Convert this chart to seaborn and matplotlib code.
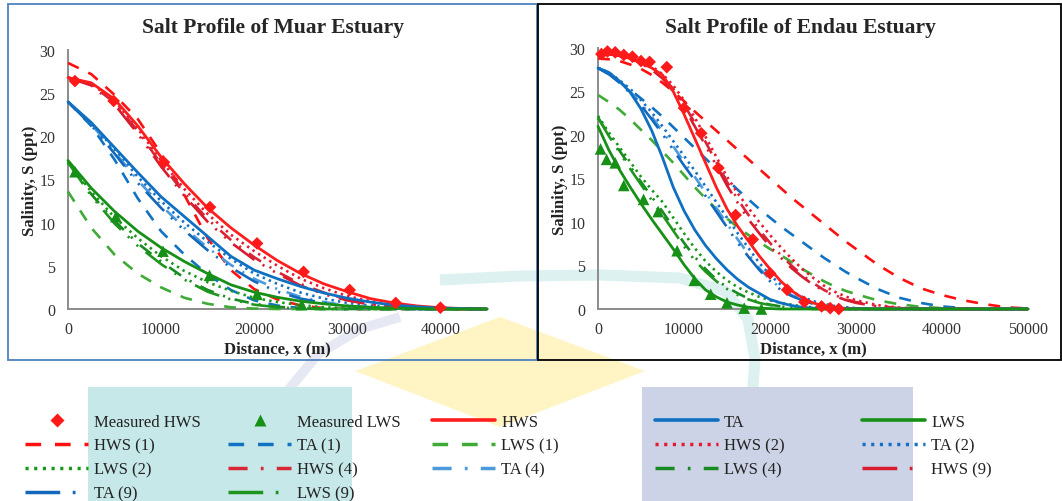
import numpy as np
import pandas as pd
import matplotlib
matplotlib.use("Agg")
import matplotlib.pyplot as plt
from matplotlib.lines import Line2D
from matplotlib.patches import Rectangle, Polygon
import seaborn as sns

# ---------------- data ----------------
x_left = [0, 2500, 5000, 7500, 10000, 12500, 15000, 17500, 20000, 22500, 25000,
          27500, 30000, 32500, 35000, 37500, 40000, 42500, 45000]
x_right = [0, 1250, 2500, 3750, 5000, 6250, 7500, 8750, 10000, 11250, 12500, 13750,
           15000, 16250, 17500, 18750, 20000, 21250, 22500, 23750, 25000, 26250,
           27500, 28750, 30000, 32500, 35000, 37500, 40000, 42500, 45000, 47500, 50000]

# Muar estuary
hws_L  = [26.8, 26.2, 24.3, 21.2, 17.6, 14.5, 11.7, 9.4, 7.4, 5.6, 4.1, 2.9, 2.0, 1.2, 0.7, 0.35, 0.15, 0.05, 0.0]
hws1_L = [28.5, 27.2, 24.8, 22.0, 18.0, 13.2, 8.2, 4.5, 2.3, 1.1, 0.4, 0.1, 0.0, 0.0, 0.0, 0.0, 0.0, 0.0, 0.0]
hws2_L = [26.8, 26.1, 24.1, 20.9, 17.2, 13.9, 11.0, 8.6, 6.7, 5.0, 3.5, 2.4, 1.5, 0.9, 0.5, 0.25, 0.1, 0.05, 0.0]
hws4_L = [26.8, 26.0, 23.9, 20.6, 16.8, 13.4, 10.4, 8.0, 6.0, 4.3, 2.9, 1.9, 1.1, 0.6, 0.3, 0.1, 0.05, 0.0, 0.0]
hws9_L = [26.8, 25.9, 23.7, 20.3, 16.5, 13.1, 10.1, 7.7, 5.7, 4.1, 2.7, 1.7, 1.0, 0.5, 0.25, 0.1, 0.0, 0.0, 0.0]
ta_L   = [24.0, 21.6, 18.7, 15.8, 13.0, 10.7, 8.4, 6.1, 4.5, 3.5, 2.6, 1.85, 1.25, 0.8, 0.45, 0.25, 0.1, 0.05, 0.0]
ta1_L  = [24.0, 21.2, 17.3, 12.8, 9.0, 6.3, 4.0, 2.2, 1.0, 0.4, 0.1, 0.0, 0.0, 0.0, 0.0, 0.0, 0.0, 0.0, 0.0]
ta2_L  = [24.0, 21.5, 18.5, 15.3, 12.5, 10.0, 7.8, 5.8, 4.1, 2.9, 1.9, 1.2, 0.7, 0.4, 0.2, 0.1, 0.0, 0.0, 0.0]
ta4_L  = [24.0, 21.4, 18.2, 14.9, 12.0, 9.4, 7.1, 5.1, 3.5, 2.3, 1.4, 0.8, 0.4, 0.2, 0.1, 0.0, 0.0, 0.0, 0.0]
ta9_L  = [24.0, 21.3, 18.0, 14.6, 11.7, 9.1, 6.8, 4.8, 3.2, 2.0, 1.2, 0.7, 0.35, 0.15, 0.05, 0.0, 0.0, 0.0, 0.0]
lws_L  = [17.2, 14.0, 11.3, 9.0, 7.1, 5.5, 4.1, 2.8, 1.95, 1.35, 0.9, 0.6, 0.35, 0.2, 0.1, 0.05, 0.0, 0.0, 0.0]
lws1_L = [13.6, 9.4, 6.3, 4.1, 2.5, 1.3, 0.6, 0.2, 0.05, 0.0, 0.0, 0.0, 0.0, 0.0, 0.0, 0.0, 0.0, 0.0, 0.0]
lws2_L = [17.0, 13.6, 10.6, 8.2, 6.1, 4.4, 3.1, 2.1, 1.3, 0.8, 0.45, 0.2, 0.1, 0.0, 0.0, 0.0, 0.0, 0.0, 0.0]
lws4_L = [17.0, 13.3, 10.2, 7.6, 5.5, 3.6, 2.2, 1.2, 0.6, 0.25, 0.1, 0.0, 0.0, 0.0, 0.0, 0.0, 0.0, 0.0, 0.0]
lws9_L = [17.0, 13.1, 9.9, 7.3, 5.2, 3.4, 2.0, 1.1, 0.5, 0.2, 0.05, 0.0, 0.0, 0.0, 0.0, 0.0, 0.0, 0.0, 0.0]
meas_hws_x_L = [750, 4900, 10300, 15250, 20300, 25300, 30250, 35200, 40000]
meas_hws_y_L = [26.4, 24.1, 17.0, 11.8, 7.6, 4.3, 2.2, 0.7, 0.15]
meas_lws_x_L = [750, 5150, 10200, 15200, 20300, 25100]
meas_lws_y_L = [15.9, 10.7, 6.7, 3.9, 1.7, 0.5]

# Endau estuary
hws_R  = [29.4, 29.35, 29.1, 28.8, 28.3, 27.7, 26.9, 25.0, 22.4, 19.6, 16.8, 14.0, 11.5, 9.5, 7.8, 6.1, 4.6,
          3.2, 2.1, 1.3, 0.7, 0.35, 0.15, 0.05, 0.0, 0.0, 0.0, 0.0, 0.0, 0.0, 0.0, 0.0, 0.0]
hws1_R = [28.8, 28.7, 28.5, 28.1, 27.6, 26.9, 26.0, 25.0, 23.9, 22.7, 21.6, 20.5, 19.4, 18.3, 17.2, 16.1, 15.0,
          13.9, 12.8, 11.8, 10.8, 9.8, 8.8, 7.8, 6.9, 5.1, 3.6, 2.4, 1.6, 1.0, 0.55, 0.2, 0.05]
hws2_R = [29.4, 29.35, 29.2, 28.9, 28.5, 27.9, 27.0, 25.7, 24.0, 22.0, 19.8, 17.5, 15.2, 13.3, 11.6, 10.0, 8.5,
          7.1, 5.8, 4.6, 3.6, 2.7, 2.0, 1.45, 1.0, 0.45, 0.15, 0.05, 0.0, 0.0, 0.0, 0.0, 0.0]
hws4_R = [29.4, 29.3, 29.1, 28.8, 28.3, 27.6, 26.7, 25.3, 23.5, 21.4, 19.2, 16.9, 14.6, 12.6, 10.8, 9.1, 7.6,
          6.2, 5.0, 3.9, 3.0, 2.2, 1.6, 1.15, 0.8, 0.35, 0.1, 0.0, 0.0, 0.0, 0.0, 0.0, 0.0]
hws9_R = [29.4, 29.3, 29.1, 28.7, 28.2, 27.5, 26.5, 25.0, 23.2, 21.0, 18.8, 16.5, 14.2, 12.2, 10.3, 8.7, 7.2,
          5.9, 4.7, 3.7, 2.8, 2.1, 1.5, 1.05, 0.7, 0.3, 0.1, 0.0, 0.0, 0.0, 0.0, 0.0, 0.0]
ta_R   = [27.7, 27.2, 26.2, 24.9, 23.0, 20.5, 17.4, 14.0, 11.3, 9.1, 7.3, 5.8, 4.5, 3.4, 2.5, 1.8, 1.1,
          0.7, 0.4, 0.2, 0.1, 0.05, 0.0, 0.0, 0.0, 0.0, 0.0, 0.0, 0.0, 0.0, 0.0, 0.0, 0.0]
ta1_R  = [27.7, 27.0, 26.1, 25.2, 24.2, 23.2, 22.1, 20.9, 19.7, 18.5, 17.3, 16.1, 14.9, 13.7, 12.6, 11.5, 10.5,
          9.5, 8.6, 7.7, 6.8, 5.9, 5.1, 4.3, 3.6, 2.3, 1.3, 0.7, 0.3, 0.1, 0.0, 0.0, 0.0]
ta2_R  = [27.7, 27.2, 26.3, 25.3, 24.0, 22.6, 21.0, 19.3, 17.6, 15.9, 14.1, 12.3, 10.5, 8.7, 7.0, 5.3, 3.9,
          2.8, 2.0, 1.4, 0.9, 0.6, 0.35, 0.2, 0.1, 0.0, 0.0, 0.0, 0.0, 0.0, 0.0, 0.0, 0.0]
ta4_R  = [27.7, 27.1, 26.1, 25.0, 23.6, 22.1, 20.4, 18.7, 16.9, 15.2, 13.4, 11.6, 9.8, 8.0, 6.3, 4.7, 3.4,
          2.4, 1.6, 1.1, 0.7, 0.45, 0.25, 0.1, 0.05, 0.0, 0.0, 0.0, 0.0, 0.0, 0.0, 0.0, 0.0]
ta9_R  = [27.7, 27.0, 26.0, 24.8, 23.4, 21.8, 20.1, 18.3, 16.5, 14.8, 13.0, 11.2, 9.4, 7.6, 6.0, 4.5, 3.2,
          2.2, 1.5, 1.0, 0.6, 0.4, 0.2, 0.1, 0.05, 0.0, 0.0, 0.0, 0.0, 0.0, 0.0, 0.0, 0.0]
lws_R  = [21.0, 18.3, 16.0, 14.0, 12.1, 10.3, 8.6, 6.9, 5.1, 3.5, 2.2, 1.4, 0.8, 0.45, 0.2, 0.1, 0.05,
          0.0, 0.0, 0.0, 0.0, 0.0, 0.0, 0.0, 0.0, 0.0, 0.0, 0.0, 0.0, 0.0, 0.0, 0.0, 0.0]
lws1_R = [24.6, 23.8, 22.9, 21.8, 20.6, 19.4, 18.1, 16.8, 15.4, 14.0, 12.7, 11.5, 10.4, 9.4, 8.5, 7.7, 6.9,
          6.2, 5.4, 4.6, 3.9, 3.2, 2.6, 2.1, 1.7, 1.0, 0.55, 0.25, 0.1, 0.0, 0.0, 0.0, 0.0]
lws2_R = [22.2, 20.3, 18.6, 16.9, 15.2, 13.7, 12.3, 10.5, 8.7, 7.0, 5.5, 4.3, 3.3, 2.5, 1.9, 1.4, 1.0,
          0.7, 0.5, 0.3, 0.2, 0.1, 0.05, 0.0, 0.0, 0.0, 0.0, 0.0, 0.0, 0.0, 0.0, 0.0, 0.0]
lws4_R = [22.0, 20.0, 18.2, 16.4, 14.6, 12.9, 11.2, 9.4, 7.6, 6.0, 4.6, 3.4, 2.5, 1.8, 1.2, 0.8, 0.5,
          0.3, 0.2, 0.1, 0.05, 0.0, 0.0, 0.0, 0.0, 0.0, 0.0, 0.0, 0.0, 0.0, 0.0, 0.0, 0.0]
lws9_R = [22.0, 19.9, 18.0, 16.1, 14.3, 12.5, 10.8, 9.0, 7.2, 5.6, 4.3, 3.2, 2.3, 1.6, 1.1, 0.7, 0.45,
          0.3, 0.15, 0.1, 0.0, 0.0, 0.0, 0.0, 0.0, 0.0, 0.0, 0.0, 0.0, 0.0, 0.0, 0.0, 0.0]
meas_hws_x_R = [400, 1100, 2000, 3000, 4000, 5000, 6000, 8000, 10000, 12000, 14000,
                16000, 18000, 20000, 22000, 24000, 26000, 27000, 28000]
meas_hws_y_R = [29.3, 29.6, 29.5, 29.2, 29.0, 28.5, 28.4, 27.8, 23.1, 20.2, 16.2,
                10.8, 8.0, 4.1, 2.2, 0.8, 0.3, 0.1, 0.0]
meas_lws_x_R = [300, 1000, 2000, 3000, 5300, 7000, 9200, 11200, 13100, 15000, 17000, 19000]
meas_lws_y_R = [18.4, 17.2, 16.8, 14.2, 12.6, 11.2, 6.7, 3.3, 1.7, 0.7, 0.1, 0.0]

titles = ["Salt Profile of Muar Estuary", "Salt Profile of Endau Estuary"]
x_ticks_left = [0, 10000, 20000, 30000, 40000]
x_ticks_right = [0, 10000, 20000, 30000, 40000, 50000]
y_ticks = [0, 5, 10, 15, 20, 25, 30]

# ---------------- styles ----------------
DASH = (0, (4.5, 4.0))
DOT = (0, (0.9, 1.6))
DASHDOT = (0, (5.5, 3.8, 0.8, 3.8))
LDASHDOTDOT = (0, (10, 3.6, 0.8, 3.8, 0.8, 3.6))

styles = {
    "HWS":     dict(color="#FF1E1E", ls="-", lw=2.0),
    "TA":      dict(color="#0F6FC0", ls="-", lw=2.0),
    "LWS":     dict(color="#169016", ls="-", lw=2.0),
    "HWS (1)": dict(color="#FF1010", ls=DASH, lw=1.9),
    "TA (1)":  dict(color="#1272C2", ls=DASH, lw=1.9),
    "LWS (1)": dict(color="#3FAA35", ls=DASH, lw=1.9),
    "HWS (2)": dict(color="#E8182E", ls=DOT, lw=1.9),
    "TA (2)":  dict(color="#1470C4", ls=DOT, lw=1.9),
    "LWS (2)": dict(color="#189818", ls=DOT, lw=1.9),
    "HWS (4)": dict(color="#D82636", ls=DASHDOT, lw=1.9),
    "TA (4)":  dict(color="#4A9ADC", ls=DASHDOT, lw=1.9),
    "LWS (4)": dict(color="#178A22", ls=DASHDOT, lw=1.9),
    "HWS (9)": dict(color="#D81C30", ls=LDASHDOTDOT, lw=1.9),
    "TA (9)":  dict(color="#1468BC", ls=LDASHDOTDOT, lw=1.9),
    "LWS (9)": dict(color="#1E961E", ls=LDASHDOTDOT, lw=1.9),
}

series_left = {"HWS (1)": hws1_L, "TA (1)": ta1_L, "LWS (1)": lws1_L,
               "HWS (2)": hws2_L, "TA (2)": ta2_L, "LWS (2)": lws2_L,
               "HWS (4)": hws4_L, "TA (4)": ta4_L, "LWS (4)": lws4_L,
               "HWS (9)": hws9_L, "TA (9)": ta9_L, "LWS (9)": lws9_L,
               "HWS": hws_L, "TA": ta_L, "LWS": lws_L}
series_right = {"HWS (1)": hws1_R, "TA (1)": ta1_R, "LWS (1)": lws1_R,
                "HWS (2)": hws2_R, "TA (2)": ta2_R, "LWS (2)": lws2_R,
                "HWS (4)": hws4_R, "TA (4)": ta4_R, "LWS (4)": lws4_R,
                "HWS (9)": hws9_R, "TA (9)": ta9_R, "LWS (9)": lws9_R,
                "HWS": hws_R, "TA": ta_R, "LWS": lws_R}

# ---------------- figure ----------------
sns.set_theme(style="white")
plt.rcParams["font.family"] = ["Liberation Serif", "DejaVu Serif"]

W, H = 1062, 502
fig = plt.figure(figsize=(W / 100, H / 100), dpi=100)
fig.patch.set_facecolor("white")

def fx(px):
    return px / W

def fy(py):
    return 1 - py / H

# faint watermark shapes behind everything
fig.patches.append(Rectangle((fx(88), fy(502)), fx(352) - fx(88), fy(388) - fy(502),
                             transform=fig.transFigure, facecolor="#C6E8E8", edgecolor="none", zorder=-5))
fig.patches.append(Rectangle((fx(642), fy(502)), fx(913) - fx(642), fy(388) - fy(502),
                             transform=fig.transFigure, facecolor="#CDD3E6", edgecolor="none", zorder=-5))
fig.patches.append(Polygon([(fx(355), fy(372)), (fx(500), fy(318)), (fx(645), fy(372)), (fx(500), fy(428))],
                           closed=True, transform=fig.transFigure, facecolor="#FFF4C4", edgecolor="none", zorder=-5))
band_x = [440, 520, 600, 680, 725, 748, 755, 752]
band_y = [281, 277, 276, 279, 292, 320, 360, 400]
fig.lines.append(Line2D([fx(v) for v in band_x], [fy(v) for v in band_y], transform=fig.transFigure,
                        color="#DDF1F1", lw=8, solid_capstyle="butt", zorder=-5))
sw_x = [238, 258, 285, 318, 360, 400]
sw_y = [502, 445, 395, 355, 330, 318]
fig.lines.append(Line2D([fx(v) for v in sw_x], [fy(v) for v in sw_y], transform=fig.transFigure,
                        color="#E6E8F3", lw=7, solid_capstyle="butt", zorder=-5))

# panel frames
fig.patches.append(Rectangle((fx(8), fy(361)), fx(537) - fx(8), fy(5) - fy(361),
                             transform=fig.transFigure, facecolor="none", edgecolor="#4F81BD", lw=1.3, zorder=-4))
fig.patches.append(Rectangle((fx(538), fy(361)), fx(1061) - fx(538), fy(5) - fy(361),
                             transform=fig.transFigure, facecolor="none", edgecolor="black", lw=1.3, zorder=-4))

ax_l = fig.add_axes([fx(68), fy(310), fx(487) - fx(68), fy(51) - fy(310)])
ax_r = fig.add_axes([fx(598), fy(310), fx(1028) - fx(598), fy(49) - fy(310)])

panels = [
    (ax_l, x_left, series_left, meas_hws_x_L, meas_hws_y_L, meas_lws_x_L, meas_lws_y_L, 45000, x_ticks_left),
    (ax_r, x_right, series_right, meas_hws_x_R, meas_hws_y_R, meas_lws_x_R, meas_lws_y_R, 50000, x_ticks_right),
]

for i, (ax, xs, ser, mhx, mhy, mlx, mly, xmax, xt) in enumerate(panels):
    ax.set_facecolor("none")
    for name, ys in ser.items():
        st = styles[name]
        sns.lineplot(x=xs, y=ys, ax=ax, color=st["color"], linestyle=st["ls"],
                     linewidth=st["lw"], clip_on=False, zorder=3)
    sns.scatterplot(x=mhx, y=mhy, ax=ax, marker="D", s=42, color="#FF1A1A",
                    edgecolor="none", zorder=5, clip_on=False)
    sns.scatterplot(x=mlx, y=mly, ax=ax, marker="^", s=70, color="#169016",
                    edgecolor="none", zorder=5, clip_on=False)
    ax.set_xlim(0, xmax)
    ax.set_ylim(0, 30)
    ax.set_xticks(xt)
    ax.set_xticklabels([str(v) for v in xt])
    ax.set_yticks(y_ticks)
    ax.set_yticklabels([str(v) for v in y_ticks])
    ax.tick_params(axis="both", length=0, labelsize=11.5, colors="#333333", pad=9)
    for sp in ["top", "right"]:
        ax.spines[sp].set_visible(False)
    for sp in ["left", "bottom"]:
        ax.spines[sp].set_color("#8C8C8C")
        ax.spines[sp].set_linewidth(1.4)
    ax.set_xlabel("Distance, x (m)", fontsize=12, fontweight="bold", labelpad=2, color="#222222")
    ax.set_ylabel("Salinity, S (ppt)", fontsize=12, fontweight="bold", labelpad=1, color="#222222")
    ax.grid(False)

fig.text(fx(273), fy(28), titles[0], ha="center", va="center", fontsize=15.5, fontweight="bold")
fig.text(fx(800), fy(28), titles[1], ha="center", va="center", fontsize=15.5, fontweight="bold")

# ---------------- legend ----------------
def handle(name):
    st = styles[name]
    return Line2D([0], [0], color=st["color"], linestyle=st["ls"], linewidth=st["lw"] + 0.6)

h_meas_hws = Line2D([0], [0], marker="D", color="none", markerfacecolor="#FF1A1A",
                    markeredgecolor="none", markersize=7)
h_meas_lws = Line2D([0], [0], marker="^", color="none", markerfacecolor="#169016",
                    markeredgecolor="none", markersize=9)

columns = [
    ([h_meas_hws, handle("HWS (1)"), handle("LWS (2)"), handle("TA (9)")],
     ["Measured HWS", "HWS (1)", "LWS (2)", "TA (9)"], 25),
    ([h_meas_lws, handle("TA (1)"), handle("HWS (4)"), handle("LWS (9)")],
     ["Measured LWS", "TA (1)", "HWS (4)", "LWS (9)"], 228),
    ([handle("HWS"), handle("LWS (1)"), handle("TA (4)")],
     ["HWS", "LWS (1)", "TA (4)"], 432),
    ([handle("TA"), handle("HWS (2)"), handle("LWS (4)")],
     ["TA", "HWS (2)", "LWS (4)"], 655),
    ([handle("LWS"), handle("TA (2)"), handle("HWS (9)")],
     ["LWS", "TA (2)", "HWS (9)"], 862),
]
for hs, ls_, xpx in columns:
    leg = fig.legend(hs, ls_, loc="upper left", bbox_to_anchor=(fx(xpx), fy(415)),
                     frameon=False, fontsize=12, handlelength=3.8, handletextpad=0.35,
                     labelspacing=0.47, borderpad=0, borderaxespad=0)
    for t in leg.get_texts():
        t.set_color("#222222")

fig.savefig("out.png", dpi=100, facecolor="white")
